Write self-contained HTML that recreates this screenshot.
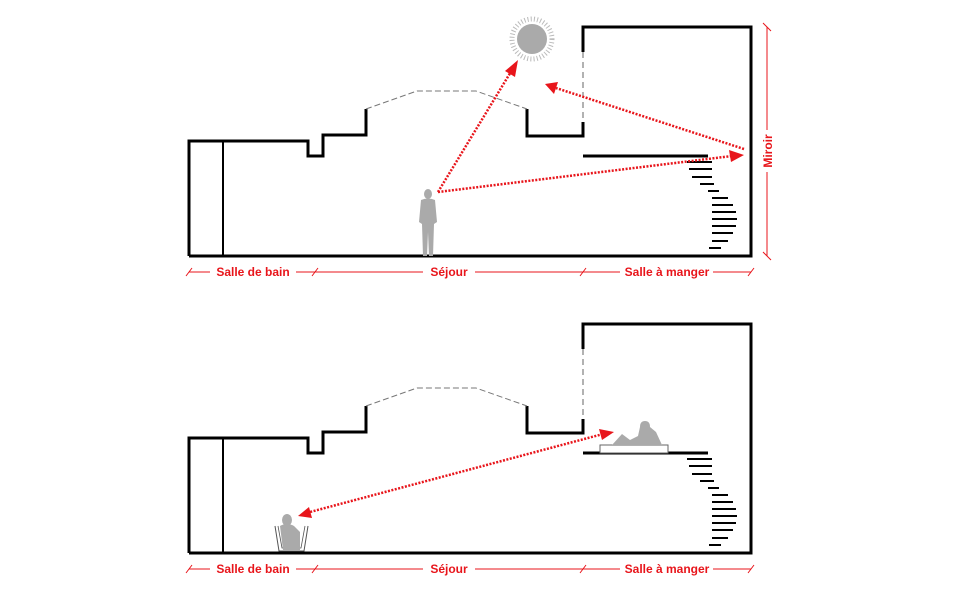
<!DOCTYPE html>
<html><head><style>body{margin:0;background:#fff}svg{display:block}text{font-family:"Liberation Sans",sans-serif;font-weight:bold;fill:#e8151b;font-size:12px}</style></head><body>
<svg width="960" height="600" viewBox="0 0 960 600" xmlns="http://www.w3.org/2000/svg">
<defs>
<g id="bld">
<path d="M189,256 V141 H308 V156 H323 V135 H366 V109" fill="none" stroke="#000" stroke-width="3"/>
<path d="M527,109 V136 H583 V122" fill="none" stroke="#000" stroke-width="3"/>
<path d="M583,52 V27 H751 V256 H189" fill="none" stroke="#000" stroke-width="3"/>
<line x1="223" y1="141" x2="223" y2="256" stroke="#000" stroke-width="2"/>
<path d="M366,109 L417,91 H476 L527,109" fill="none" stroke="#777" stroke-width="1" stroke-dasharray="6,3"/>
<line x1="583" y1="52" x2="583" y2="122" stroke="#999" stroke-width="1.5" stroke-dasharray="6,4"/>
<line x1="583" y1="156" x2="708" y2="156" stroke="#000" stroke-width="3"/>
<g stroke="#000" stroke-width="2">
<line x1="687" y1="162" x2="712" y2="162"/><line x1="689" y1="169" x2="712" y2="169"/>
<line x1="692" y1="177" x2="712" y2="177"/><line x1="700" y1="184" x2="714" y2="184"/>
<line x1="708" y1="191" x2="719" y2="191"/><line x1="712" y1="198" x2="728" y2="198"/>
<line x1="712" y1="205" x2="733" y2="205"/><line x1="712" y1="212" x2="736" y2="212"/>
<line x1="712" y1="219" x2="737" y2="219"/><line x1="712" y1="226" x2="736" y2="226"/>
<line x1="712" y1="233" x2="733" y2="233"/><line x1="712" y1="241" x2="728" y2="241"/>
<line x1="709" y1="248" x2="721" y2="248"/>
</g>
<g stroke="#e8151b" stroke-width="1">
<line x1="189" y1="272" x2="210" y2="272"/><line x1="296" y1="272" x2="315" y2="272"/>
<line x1="315" y1="272" x2="423" y2="272"/><line x1="475" y1="272" x2="583" y2="272"/>
<line x1="583" y1="272" x2="620" y2="272"/><line x1="713" y1="272" x2="751" y2="272"/>
<path d="M186,276 L192,268 M312,276 L318,268 M580,276 L586,268 M748,276 L754,268"/>
</g>
<text x="253" y="276" text-anchor="middle">Salle de bain</text>
<text x="449" y="276" text-anchor="middle">Séjour</text>
<text x="667" y="276" text-anchor="middle">Salle à manger</text>
</g>
</defs>
<use href="#bld"/>
<use href="#bld" y="297"/>
<!-- sun -->
<circle cx="532" cy="39" r="15" fill="#aaa"/>
<circle cx="532" cy="39" r="20" fill="none" stroke="#bbb" stroke-width="5" stroke-dasharray="1,2.2"/>
<!-- person standing -->
<g fill="#aaa">
<ellipse cx="428" cy="194" rx="4" ry="5"/>
<path d="M421,200 Q428,197 435,200 L437,222 L434,224 L433,256 L429,256 L428,232 L427,256 L423,256 L422,224 L419,222 Z"/>
</g>
<!-- arrows top -->
<g stroke="#e8151b" stroke-width="2.5" stroke-dasharray="2,1.5" fill="none">
<line x1="438" y1="192" x2="512" y2="70"/>
<line x1="438" y1="192" x2="732" y2="156"/>
<line x1="744" y1="149" x2="556" y2="88"/>
</g>
<g fill="#e8151b">
<polygon points="518,60 515,77 505,71"/>
<polygon points="744,155 731,162 729,150"/>
<polygon points="545,84 558,82 554,94"/>
</g>
<!-- Miroir -->
<g stroke="#e8151b" stroke-width="1">
<line x1="767" y1="27" x2="767" y2="130"/><line x1="767" y1="172" x2="767" y2="256"/>
<path d="M763,23 L771,31 M763,252 L771,260"/>
</g>
<text transform="translate(772,151) rotate(-90)" text-anchor="middle">Miroir</text>
<!-- bottom -->
<rect x="600" y="445" width="68" height="8" fill="#fff" stroke="#666" stroke-width="1"/>
<g fill="#aaa">
<path d="M612,445 L622,434 L630,440 L638,436 L640,427 Q640,421 645,421 Q650,421 650,427 L656,432 L662,445 Z"/>
</g>
<g stroke="#e8151b" stroke-width="2.5" stroke-dasharray="2,1.5" fill="none">
<line x1="603" y1="434" x2="310" y2="512"/>
</g>
<g fill="#e8151b">
<polygon points="614,432 602,440 599,429"/>
<polygon points="298,516 309,507 312,518"/>
</g>
<path d="M275,526 L279,551 H304 L308,526" fill="none" stroke="#555" stroke-width="1"/>
<path d="M278,526 L282,548 H301 L305,526" fill="none" stroke="#555" stroke-width="0.8"/>
<g fill="#aaa"><ellipse cx="287" cy="520" rx="5" ry="6"/><path d="M280,526 Q287,522 294,526 L300,532 L300,550 H283 Z"/></g>
</svg>
</body></html>
